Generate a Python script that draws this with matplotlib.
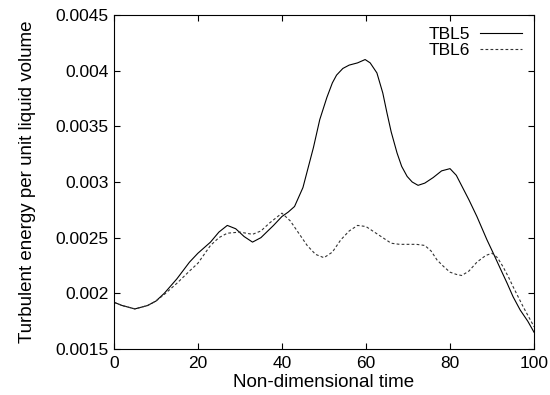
import matplotlib
matplotlib.use("Agg")
import matplotlib.pyplot as plt
from matplotlib.ticker import FuncFormatter

plt.rcParams["font.family"] = ["Liberation Sans", "DejaVu Sans"]

# --- values ---
t5 = [0, 2, 5, 8, 10, 12, 15, 18, 20, 23, 25, 27, 29, 31, 33, 35, 38, 40, 41.5, 43,
      45, 47.5, 49, 50.7, 52, 53, 54.5, 56, 58, 59.8, 61, 62.6, 64, 65, 66, 67.4,
      68.5, 69.8, 71, 72.4, 74, 76, 78, 80, 81.5, 83, 84.5, 86.4, 88.8, 90.3, 92,
      93.6, 95, 96.7, 98.5, 100]
tbl5 = [0.00192, 0.00189, 0.00186, 0.00189, 0.00193, 0.00200, 0.00213, 0.00228,
        0.00236, 0.00246, 0.00255, 0.00261, 0.00258, 0.00251, 0.00246, 0.00250,
        0.00261, 0.00269, 0.00273, 0.00278, 0.00295, 0.00331, 0.00356, 0.00376,
        0.00389, 0.00396, 0.00402, 0.00405, 0.00407, 0.00410, 0.00407, 0.00398,
        0.00380, 0.00362, 0.00345, 0.00326, 0.00314, 0.00305, 0.00300, 0.00297,
        0.00299, 0.00304, 0.00310, 0.00312, 0.00306, 0.00295, 0.00284, 0.00269,
        0.00248, 0.00236, 0.00222, 0.00209, 0.00197, 0.00185, 0.00175, 0.00165]

t6 = [0, 2, 5, 8, 10, 12, 15, 18, 20, 23, 25, 27, 30, 33, 35, 37, 40, 42, 44, 46,
      48, 50, 52, 54, 56, 58, 60, 62, 64, 66, 68, 72, 74, 75.5, 76.9, 78.5, 80,
      81.5, 82.8, 84.5, 86.4, 88.5, 90, 91.3, 92.6, 94, 95, 96.2, 97.4, 100]
tbl6 = [0.00192, 0.00189, 0.00186, 0.00189, 0.00193, 0.00199, 0.00209, 0.00220,
        0.00227, 0.00243, 0.00250, 0.00254, 0.00255, 0.00253, 0.00256, 0.00263,
        0.00272, 0.00265, 0.00254, 0.00243, 0.00235, 0.00232, 0.00237, 0.00248,
        0.00256, 0.00261, 0.00260, 0.00255, 0.00250, 0.00245, 0.00244, 0.00244,
        0.00243, 0.00238, 0.00230, 0.00224, 0.00219, 0.00217, 0.00216, 0.00220,
        0.00228, 0.00234, 0.00236, 0.00232, 0.00224, 0.00214, 0.00206, 0.00197,
        0.00188, 0.00170]

xticks = [0, 20, 40, 60, 80, 100]
yticks = [0.0015, 0.002, 0.0025, 0.003, 0.0035, 0.004, 0.0045]

fig = plt.figure(figsize=(5.5, 3.95), dpi=100)
ax = fig.add_axes([0.207, 0.1165, 0.764, 0.8455])

ax.plot(t5, tbl5, color="black", lw=0.8, label="TBL5")
ax.plot(t6, tbl6, color="#333333", lw=0.8, ls=(0, (2.5, 2)), label="TBL6")

ax.set_xlim(0, 100)
ax.set_ylim(0.0015, 0.0045)
ax.set_xticks(xticks)
ax.set_yticks(yticks)
ax.yaxis.set_major_formatter(FuncFormatter(lambda v, p: "%g" % v))
ax.tick_params(direction="in", top=True, right=True, length=4, labelsize=12.5)
ax.tick_params(axis="x", pad=5)
for s in ax.spines.values():
    s.set_linewidth(0.8)

ax.set_xlabel("Non-dimensional time", fontsize=13.5, labelpad=2)
ax.set_ylabel("Turbulent energy per unit liquid volume", fontsize=13.5, labelpad=14)

ax.legend(loc="upper right", frameon=False, markerfirst=False, fontsize=12.5,
          handlelength=2.4, handletextpad=0.6, labelspacing=0.05,
          borderaxespad=0.3)

fig.savefig("out.png", dpi=100)
